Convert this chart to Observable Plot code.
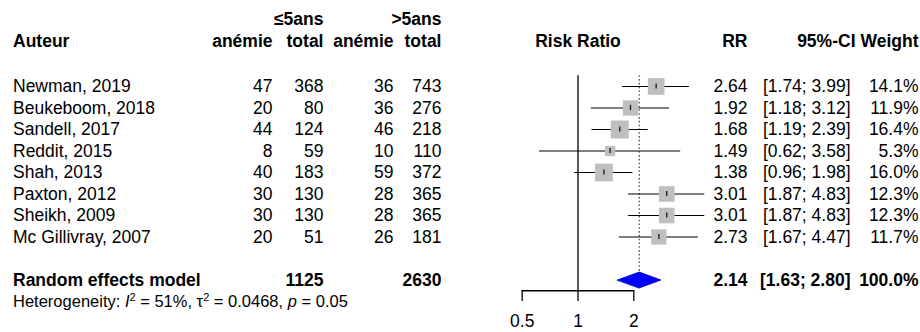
<!DOCTYPE html>
<html>
<head>
<meta charset="utf-8">
<script src="https://cdn.jsdelivr.net/npm/d3@7"></script>
<script src="https://cdn.jsdelivr.net/npm/@observablehq/plot@0.6"></script>
<style>
  html, body { margin: 0; padding: 0; background: #fff; }
  #chart { width: 920px; height: 332px; }
</style>
</head>
<body>
<div id="chart"></div>
<script>
// ---------- data ----------
const studies   = ["Newman, 2019", "Beukeboom, 2018", "Sandell, 2017", "Reddit, 2015", "Shah, 2013", "Paxton, 2012", "Sheikh, 2009", "Mc Gillivray, 2007"];
const anemiaLe5 = [47, 20, 44, 8, 40, 30, 30, 20];
const totalLe5  = [368, 80, 124, 59, 183, 130, 130, 51];
const anemiaGt5 = [36, 36, 46, 10, 59, 28, 28, 26];
const totalGt5  = [743, 276, 218, 110, 372, 365, 365, 181];
const rr        = [2.64, 1.92, 1.68, 1.49, 1.38, 3.01, 3.01, 2.73];
const ciLower   = [1.74, 1.18, 1.19, 0.62, 0.96, 1.87, 1.87, 1.67];
const ciUpper   = [3.99, 3.12, 2.39, 3.58, 1.98, 4.83, 4.83, 4.47];
const weights   = [14.1, 11.9, 16.4, 5.3, 16.0, 12.3, 12.3, 11.7];

const modelLabel  = ["Random effects model"];
const modelTotals = [1125, 2630];
const modelRR     = [2.14];
const modelLower  = [1.63];
const modelUpper  = [2.80];
const modelWeight = ["100.0%"];

const hetI2 = 51, hetTau2 = "0.0468", hetP = "0.05";

const groupLabels = ["\u22645ans", ">5ans"];
const colHeaders  = ["anémie", "total", "anémie", "total"];
const authorHead  = ["Auteur"];
const plotHead    = ["Risk Ratio"];
const statHeaders = ["RR", "95%-CI", "Weight"];
const axisTicks   = [0.5, 1, 2];
const nullEffect  = 1;

// ---------- layout ----------
const FONT = 17.5;
const colRight = [272, 323, 393, 441];
const groupRight = [323, 441];
const statRight = [747, 850, 918];
const statHeadRight = [747, 855, 918];
const nameLeft = 12.5;
const rowRE = 9, rowHet = 10, rowAxis = 9.5, rowHead = -2.08, rowGroup = -3.12;
const diamondHalf = 0.37;

const rows = studies.map((s, i) => ({
  row: i, study: s,
  cols: [anemiaLe5[i], totalLe5[i], anemiaGt5[i], totalGt5[i]],
  rr: rr[i], lo: ciLower[i], hi: ciUpper[i], w: weights[i]
}));
const summary = {rr: modelRR[0], lo: modelLower[0], hi: modelUpper[0]};
const diamond = [
  {x: summary.lo, y: rowRE},
  {x: summary.rr, y: rowRE - diamondHalf},
  {x: summary.hi, y: rowRE},
  {x: summary.rr, y: rowRE + diamondHalf}
];

const marks = [];
const txt = (data, opts) => Plot.text(data, {fontSize: FONT, fill: "black", lineAnchor: "middle", ...opts});

// left table
marks.push(txt(authorHead, {text: d => d, y: () => rowHead, frameAnchor: "left", dx: nameLeft, textAnchor: "start", fontWeight: "bold"}));
groupLabels.forEach((g, j) => marks.push(txt([g], {text: d => d, y: () => rowGroup, frameAnchor: "left", dx: groupRight[j], textAnchor: "end", fontWeight: "bold"})));
colHeaders.forEach((h, j) => marks.push(txt([h], {text: d => d, y: () => rowHead, frameAnchor: "left", dx: colRight[j], textAnchor: "end", fontWeight: "bold"})));
marks.push(txt(rows, {text: "study", y: "row", frameAnchor: "left", dx: nameLeft, textAnchor: "start"}));
colRight.forEach((cx, j) => marks.push(txt(rows, {text: d => String(d.cols[j]), y: "row", frameAnchor: "left", dx: cx, textAnchor: "end"})));
marks.push(txt(modelLabel, {text: d => d, y: () => rowRE, frameAnchor: "left", dx: nameLeft, textAnchor: "start", fontWeight: "bold"}));
modelTotals.forEach((t, j) => marks.push(txt([t], {text: d => String(d), y: () => rowRE, frameAnchor: "left", dx: groupRight[j], textAnchor: "end", fontWeight: "bold"})));
marks.push(txt(["Heterogeneity: I2 = " + hetI2 + "%"], {text: d => d, y: () => rowHet, frameAnchor: "left", dx: nameLeft, textAnchor: "start", fontSize: 16.5}));

// forest
marks.push(txt(plotHead, {text: d => d, x: () => nullEffect, y: () => rowHead, textAnchor: "middle", fontWeight: "bold"}));
marks.push(Plot.ruleX([nullEffect], {x: d => d, y1: -0.5, y2: rowAxis, stroke: "black", strokeWidth: 1.3}));
marks.push(Plot.ruleX([summary], {x: "rr", y1: -0.5, y2: rowRE - diamondHalf, stroke: "#444", strokeWidth: 1.2, strokeDasharray: "1.6,2.2"}));
marks.push(Plot.ruleY(rows, {y: "row", x1: "lo", x2: "hi", stroke: "black", strokeWidth: 1.2}));
marks.push(Plot.dot(rows, {x: "rr", y: "row", r: "w", symbol: "square", fill: "#bfbfbf", stroke: null}));
marks.push(Plot.ruleX(rows, {x: "rr", y1: d => d.row - 0.12, y2: d => d.row + 0.12, stroke: "#222", strokeWidth: 1.4}));
marks.push(Plot.line(diamond, {x: "x", y: "y", curve: "linear-closed", fill: "#0000ff", stroke: "#0000b0", strokeWidth: 0.8}));
marks.push(Plot.ruleY([rowAxis], {y: d => d, x1: axisTicks[0], x2: axisTicks[axisTicks.length - 1], stroke: "black", strokeWidth: 1.3}));
marks.push(Plot.axisX({ticks: axisTicks, tickFormat: d => String(d), tickSize: 11, tickPadding: 13, fontSize: FONT, stroke: "black", strokeWidth: 1.3, color: "black", label: null}));

// right table
statHeaders.forEach((h, j) => marks.push(txt([h], {text: d => d, y: () => rowHead, frameAnchor: "left", dx: statHeadRight[j], textAnchor: "end", fontWeight: "bold"})));
const fmtCI = (lo, hi) => "[" + lo.toFixed(2) + "; " + hi.toFixed(2) + "]";
marks.push(txt(rows, {text: d => d.rr.toFixed(2), y: "row", frameAnchor: "left", dx: statRight[0], textAnchor: "end"}));
marks.push(txt(rows, {text: d => fmtCI(d.lo, d.hi), y: "row", frameAnchor: "left", dx: statRight[1], textAnchor: "end"}));
marks.push(txt(rows, {text: d => d.w.toFixed(1) + "%", y: "row", frameAnchor: "left", dx: statRight[2], textAnchor: "end"}));
marks.push(txt([summary], {text: d => d.rr.toFixed(2), y: () => rowRE, frameAnchor: "left", dx: statRight[0], textAnchor: "end", fontWeight: "bold"}));
marks.push(txt([summary], {text: d => fmtCI(d.lo, d.hi), y: () => rowRE, frameAnchor: "left", dx: statRight[1], textAnchor: "end", fontWeight: "bold"}));
marks.push(txt(modelWeight, {text: d => d, y: () => rowRE, frameAnchor: "left", dx: statRight[2], textAnchor: "end", fontWeight: "bold"}));

const svg = Plot.plot({
  width: 920,
  height: 332,
  marginTop: 0, marginLeft: 0, marginRight: 0, marginBottom: 42,
  style: {fontFamily: "'Liberation Sans', Arial, Helvetica, sans-serif", background: "white", color: "black"},
  x: {type: "log", domain: [0.5, 2], range: [521.7, 633.3], axis: null},
  y: {type: "linear", domain: [0, 1], range: [86, 107.5], axis: null},
  r: {type: "sqrt", domain: [0, 16.4], range: [0, 18 / Math.sqrt(Math.PI)]},
  marks
});
document.getElementById("chart").appendChild(svg);

// rich formatting for heterogeneity line (italic I, p; superscript 2)
d3.select(svg).selectAll("text")
  .filter(function () { return this.textContent.startsWith("Heterogeneity"); })
  .each(function () {
    const t = d3.select(this);
    t.text(null);
    const parts = [
      ["Heterogeneity: ", ""],
      ["I", "it"],
      ["2", "sup"],
      [" = " + hetI2 + "%, \u03c4", "back"],
      ["2", "sup"],
      [" = " + hetTau2 + ", ", "back"],
      ["p", "it"],
      [" = " + hetP, ""]
    ];
    parts.forEach(([s, k]) => {
      const ts = t.append("tspan").text(s);
      if (k === "it") ts.attr("font-style", "italic");
      if (k === "sup") ts.attr("font-size", 11).attr("dy", -6);
      if (k === "back") ts.attr("dy", 6);
    });
  });
</script>
</body>
</html>
